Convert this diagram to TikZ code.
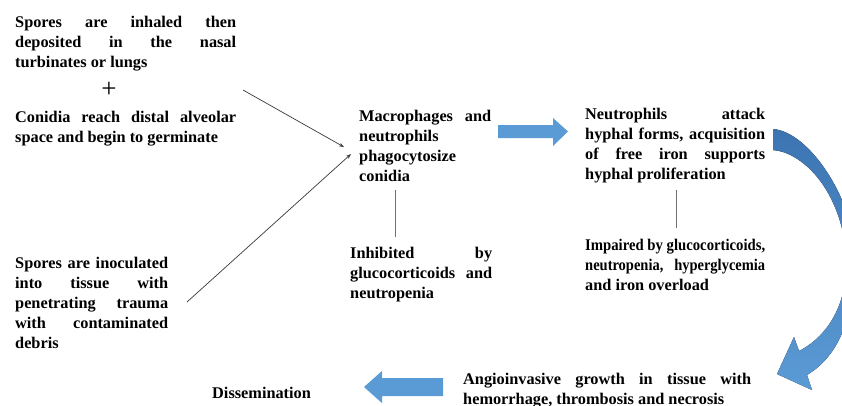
\documentclass[tikz,border=0pt]{standalone}
\usepackage{fontspec}
\setmainfont{Liberation Serif}
\usetikzlibrary{arrows.meta}
\definecolor{ablue}{HTML}{5B9BD5}
\definecolor{adark}{HTML}{3C74B2}
\definecolor{lngray}{HTML}{3A3A3A}
\definecolor{vgray}{HTML}{707070}
\newcommand{\jl}[2]{\makebox[#1pt][s]{#2}}
\newcommand{\fs}{\rule{0pt}{12pt}}
\newcommand{\sqz}[2]{\resizebox{#1pt}{\height}{#2}}
\begin{document}
\begin{tikzpicture}[x=1pt,y=-1pt,
  txt/.style={anchor=north west, inner sep=0pt, align=left, text=black,
    font=\bfseries\fontsize{16.3}{20}\selectfont},
  lnarrow/.style={draw=lngray, line width=0.7pt, -{Stealth[length=5pt,width=3.6pt]}},
  vline/.style={draw=vgray, line width=0.8pt},
  blockarrow/.style={fill=ablue, draw=none}]
\useasboundingbox (0,0) rectangle (842,405);
\clip (0,0) rectangle (842,405);
\fill[white] (0,0) rectangle (842,405);

% text blocks
\node[txt] (inhale) at (15,15.7) {\jl{221}{\fs Spores are inhaled then}\\ \jl{221}{deposited in the nasal}\\ turbinates or lungs};
\node[font=\fontsize{27}{27}\selectfont, inner sep=0pt] (plus) at (109,90) {+};
\node[txt] (conidia) at (15,110.7) {\jl{221}{\fs Conidia reach distal alveolar}\\ space and begin to germinate};
\node[txt] (inoc) at (15,256) {\jl{153}{\fs Spores are inoculated}\\ \jl{153}{into tissue with}\\ \jl{153}{penetrating trauma}\\ \jl{153}{with contaminated}\\ debris};
\node[txt] (macro) at (359,109.5) {\jl{132}{\fs Macrophages and}\\ neutrophils\\ phagocytosize\\ conidia};
\node[txt] (inhib) at (350,246) {\jl{142}{\fs Inhibited by}\\ \jl{142}{glucocorticoids and}\\ neutropenia};
\node[txt] (neut) at (585,107.5) {\jl{180}{\fs Neutrophils attack}\\ \jl{180}{hyphal forms, acquisition}\\ \jl{180}{of free iron supports}\\ hyphal proliferation};
\node[txt] (impair) at (585,238.5) {\fs\sqz{180}{Impaired by glucocorticoids,}\\ \sqz{180}{neutropenia,\ \ \ hyperglycemia}\\ and iron overload};
\node[txt] (angio) at (463,372) {\jl{288}{\fs Angioinvasive growth in tissue with}\\ hemorrhage, thrombosis and necrosis};
\node[txt] (dissem) at (212,386) {\fs Dissemination};

% thin arrows
\coordinate (s1) at (243,90);
\coordinate (e1) at (344,147);
\coordinate (s2) at (187,302);
\coordinate (e2) at (351,154);
\draw[lnarrow] (s1) -- (e1);
\draw[lnarrow] (s2) -- (e2);

% vertical connectors
\coordinate (v1a) at (395,190);
\coordinate (v1b) at (395,237);
\coordinate (v2a) at (676,190);
\coordinate (v2b) at (676,228);
\draw[vline] (v1a) -- (v1b);
\draw[vline] (v2a) -- (v2b);

% block arrows
\fill[blockarrow] (498,125) -- (553,125) -- (553,118) -- (568,131.5) -- (553,146) -- (553,138) -- (498,138) -- cycle;
\fill[blockarrow] (443,378) -- (382,378) -- (382,371) -- (364,387) -- (382,403) -- (382,396) -- (443,396) -- cycle;

% curved arrow
\fill[top color=adark, bottom color=ablue, draw=none]
  (773,129) .. controls (810,132) and (852,200) .. (853,245)
  .. controls (856,305) and (845,352) .. (807,375)
  -- (812,390) -- (777,374) -- (794,337) -- (799,351)
  .. controls (830,335) and (850,300) .. (846,250)
  .. controls (838,185) and (800,152) .. (773,150) -- cycle;
\end{tikzpicture}
\end{document}
